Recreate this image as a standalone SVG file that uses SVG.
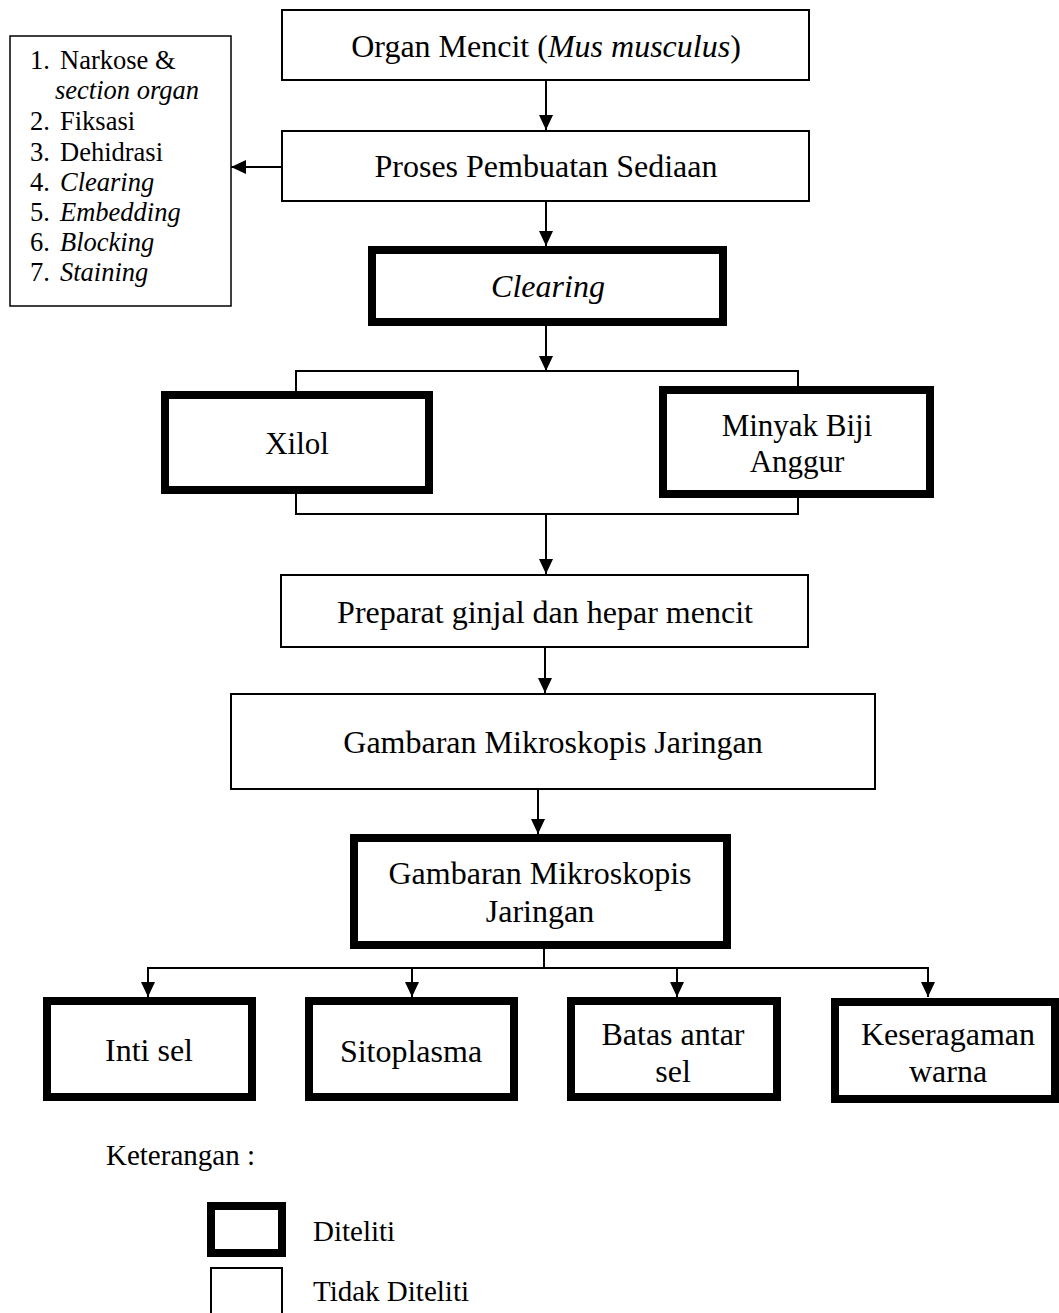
<svg xmlns="http://www.w3.org/2000/svg" width="1059" height="1313" viewBox="0 0 1059 1313">
<style>
text{font-family:"Liberation Serif","Times New Roman",serif;fill:#000}
.t{font-size:32px;text-anchor:middle}
.l{font-size:26.5px}
.k{font-size:29px}
.i{font-style:italic}
.thin{fill:#fff;stroke:#000;stroke-width:2}
.thick{fill:#fff;stroke:#000;stroke-width:8}
.c{fill:none;stroke:#000;stroke-width:2}
</style>
<defs>
<marker id="ah" markerUnits="userSpaceOnUse" markerWidth="16" markerHeight="15" refX="15" refY="7" orient="auto">
<path d="M0,0 L15,7 L0,14 z" fill="#000"/>
</marker>
</defs>
<rect width="1059" height="1313" fill="#fff"/>
<g id="connectors">
<line class="c" x1="546" y1="81" x2="546" y2="130" marker-end="url(#ah)"/>
<line class="c" x1="546" y1="202" x2="546" y2="246" marker-end="url(#ah)"/>
<line class="c" x1="281" y1="167" x2="231" y2="167" marker-end="url(#ah)"/>
<line class="c" x1="546" y1="326" x2="546" y2="371" marker-end="url(#ah)"/>
<polyline class="c" points="296,391 296,371 798,371 798,386"/>
<polyline class="c" points="296,494 296,514 798,514 798,498"/>
<line class="c" x1="546" y1="514" x2="546" y2="574" marker-end="url(#ah)"/>
<line class="c" x1="545" y1="648" x2="545" y2="693" marker-end="url(#ah)"/>
<line class="c" x1="538" y1="790" x2="538" y2="834" marker-end="url(#ah)"/>
<line class="c" x1="544" y1="949" x2="544" y2="968"/>
<line class="c" x1="147" y1="968" x2="929" y2="968"/>
<line class="c" x1="148" y1="968" x2="148" y2="997" marker-end="url(#ah)"/>
<line class="c" x1="412" y1="968" x2="412" y2="997" marker-end="url(#ah)"/>
<line class="c" x1="677" y1="968" x2="677" y2="997" marker-end="url(#ah)"/>
<line class="c" x1="928" y1="968" x2="928" y2="997" marker-end="url(#ah)"/>
</g>
<g id="steps-list">
<rect x="10" y="36" width="221" height="270" fill="#fff" stroke="#000" stroke-width="1.5"/>
<text class="l" x="30" y="69">1.</text><text class="l" x="60" y="69">Narkose &amp;</text>
<text class="l i" x="55" y="99">section organ</text>
<text class="l" x="30" y="130">2.</text><text class="l" x="60" y="130">Fiksasi</text>
<text class="l" x="30" y="161">3.</text><text class="l" x="60" y="161">Dehidrasi</text>
<text class="l" x="30" y="191">4.</text><text class="l i" x="60" y="191">Clearing</text>
<text class="l" x="30" y="221">5.</text><text class="l i" x="60" y="221">Embedding</text>
<text class="l" x="30" y="251">6.</text><text class="l i" x="60" y="251">Blocking</text>
<text class="l" x="30" y="281">7.</text><text class="l i" x="60" y="281">Staining</text>
</g>
<g id="organ">
<rect class="thin" x="282" y="10" width="527" height="70"/>
<text class="t" x="546" y="57">Organ Mencit (<tspan class="i">Mus musculus</tspan>)</text>
</g>
<g id="proses">
<rect class="thin" x="282" y="131" width="527" height="70"/>
<text class="t" x="546" y="177">Proses Pembuatan Sediaan</text>
</g>
<g id="clearing">
<rect class="thick" x="372" y="250" width="351" height="72"/>
<text class="t i" x="548" y="297">Clearing</text>
</g>
<g id="xilol">
<rect class="thick" x="165" y="395" width="264" height="95"/>
<text class="t" x="297" y="454" style="font-size:31px">Xilol</text>
</g>
<g id="minyak">
<rect class="thick" x="663" y="390" width="267" height="104"/>
<text class="t" x="797" y="436" style="font-size:31px">Minyak Biji</text>
<text class="t" x="797" y="472" style="font-size:31px">Anggur</text>
</g>
<g id="preparat">
<rect class="thin" x="281" y="575" width="527" height="72"/>
<text class="t" x="545" y="623">Preparat ginjal dan hepar mencit</text>
</g>
<g id="gambaran1">
<rect class="thin" x="231" y="694" width="644" height="95"/>
<text class="t" x="553" y="753">Gambaran Mikroskopis Jaringan</text>
</g>
<g id="gambaran2">
<rect class="thick" x="354" y="838" width="373" height="107"/>
<text class="t" x="540" y="884">Gambaran Mikroskopis</text>
<text class="t" x="540" y="922">Jaringan</text>
</g>
<g id="inti">
<rect class="thick" x="47" y="1001" width="205" height="96"/>
<text class="t" x="149" y="1061">Inti sel</text>
</g>
<g id="sitoplasma">
<rect class="thick" x="309" y="1001" width="205" height="96"/>
<text class="t" x="411" y="1062">Sitoplasma</text>
</g>
<g id="batas">
<rect class="thick" x="571" y="1001" width="206" height="96"/>
<text class="t" x="673" y="1045">Batas antar</text>
<text class="t" x="673" y="1082">sel</text>
</g>
<g id="keseragaman">
<rect class="thick" x="835" y="1002" width="220" height="97"/>
<text class="t" x="948" y="1045">Keseragaman</text>
<text class="t" x="948" y="1082">warna</text>
</g>
<g id="legend">
<text class="k" x="106" y="1165">Keterangan :</text>
<rect class="thick" x="211" y="1206" width="71" height="47"/>
<text class="k" x="313" y="1241">Diteliti</text>
<rect class="thin" x="211" y="1268" width="71" height="60"/>
<text class="k" x="313" y="1301">Tidak Diteliti</text>
</g>
</svg>
